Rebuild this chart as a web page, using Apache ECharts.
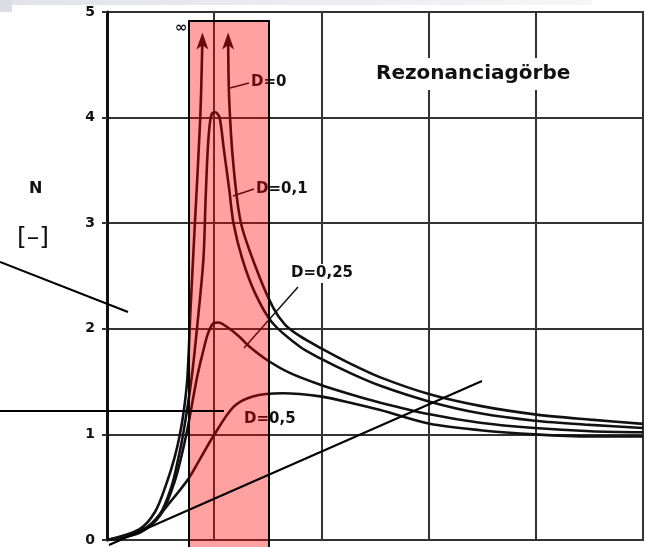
<!DOCTYPE html>
<html>
<head>
<meta charset="utf-8">
<script src="https://cdn.jsdelivr.net/npm/echarts@6/dist/echarts.min.js"></script>
<style>
  html, body { margin: 0; padding: 0; background: #fff; }
  #chart-container { width: 645px; height: 547px; }
</style>
</head>
<body>
<div id="chart-container"></div>
<script>
// tick labels of the N axis
var yTicks = ['0', '1', '2', '3', '4', '5'];

// curves: [eta, N]
var d0Left = [[0, 0], [0.3, 0.1], [0.45, 0.27], [0.56, 0.55], [0.63, 0.78], [0.68, 1.0], [0.72, 1.25], [0.75, 1.54], [0.78, 2.2], [0.82, 3.0], [0.87, 4.0], [0.89, 4.75]];
var d0Right = [[1.13, 4.75], [1.14, 4.17], [1.18, 3.54], [1.25, 3.0], [1.4, 2.55], [1.55, 2.2], [1.66, 2.04], [1.8, 1.93], [1.99, 1.82], [2.27, 1.67], [2.55, 1.54], [3.01, 1.38], [3.48, 1.27], [3.99, 1.19], [4.51, 1.14], [5.0, 1.10]];
var d01 = [[0, 0], [0.31, 0.08], [0.49, 0.24], [0.6, 0.5], [0.66, 0.75], [0.71, 1.0], [0.79, 1.54], [0.85, 2.11], [0.9, 2.67], [0.92, 3.23], [0.94, 3.7], [0.96, 3.95], [0.98, 4.04], [1.01, 4.05], [1.05, 4.0], [1.09, 3.7], [1.14, 3.32], [1.18, 3.0], [1.26, 2.67], [1.38, 2.34], [1.54, 2.06], [1.8, 1.83], [1.99, 1.72], [2.27, 1.58], [2.55, 1.46], [3.01, 1.31], [3.48, 1.2], [3.99, 1.13], [4.51, 1.09], [5.0, 1.06]];
var d025 = [[0, 0], [0.31, 0.07], [0.5, 0.24], [0.63, 0.55], [0.74, 1.0], [0.84, 1.54], [0.9, 1.8], [0.94, 1.95], [0.99, 2.05], [1.04, 2.06], [1.13, 2.01], [1.24, 1.92], [1.33, 1.83], [1.5, 1.7], [1.71, 1.58], [1.99, 1.47], [2.27, 1.38], [2.55, 1.30], [3.01, 1.19], [3.48, 1.11], [3.99, 1.06], [4.51, 1.03], [5.0, 1.02]];
var d05 = [[0, 0], [0.22, 0.05], [0.4, 0.14], [0.59, 0.36], [0.76, 0.58], [0.87, 0.77], [0.99, 0.98], [1.18, 1.26], [1.36, 1.36], [1.64, 1.39], [1.99, 1.36], [2.27, 1.3], [2.55, 1.23], [3.01, 1.1], [3.48, 1.04], [3.99, 1.0], [4.51, 0.98], [5.0, 0.98]];

function withArrow(points, last) {
  return points.map(function (p, i) {
    var isEnd = last ? i === points.length - 1 : i === 0;
    if (isEnd) {
      return { value: p, symbol: 'arrow', symbolSize: [9, 17], symbolOffset: [0, -6] };
    }
    return { value: p, symbol: 'none' };
  });
}

function plain(points) {
  return points.map(function (p) { return { value: p, symbol: 'none' }; });
}

function curve(name, data) {
  return {
    name: name,
    type: 'line',
    data: data,
    smooth: 0.3,
    showSymbol: true,
    symbol: 'none',
    lineStyle: { color: '#111', width: 2.6 },
    itemStyle: { color: '#111' },
    silent: true,
    z: 2
  };
}

var dom = document.getElementById('chart-container');
var myChart = echarts.init(dom, null, { renderer: 'canvas' });

var labelFont = { fontFamily: 'DejaVu Sans', fontWeight: 'bold', fontSize: 15, fill: '#111' };

var option = {
  animation: false,
  backgroundColor: '#fff',
  title: {
    text: 'Rezonanciagörbe',
    left: 366,
    top: 58,
    padding: [6, 10],
    backgroundColor: '#fff',
    textStyle: { fontFamily: 'DejaVu Sans', fontSize: 20, fontWeight: 'bold', color: '#111' }
  },
  grid: {
    left: 107, right: 2, top: 12, bottom: 2,
    show: true, borderColor: '#222', borderWidth: 2
  },
  xAxis: {
    type: 'value', min: 0, max: 5, interval: 1,
    axisLine: { show: false },
    axisTick: { show: false },
    axisLabel: { show: false },
    splitLine: { show: true, lineStyle: { color: '#333', width: 2 } }
  },
  yAxis: {
    type: 'value', min: 0, max: 5, interval: 1,
    axisLine: { show: true, lineStyle: { color: '#111', width: 3 } },
    axisTick: { show: true, length: 5, lineStyle: { color: '#333', width: 2 } },
    axisLabel: {
      margin: 12,
      fontFamily: 'DejaVu Sans', fontWeight: 'bold', fontSize: 14, color: '#111',
      formatter: function (v) { return yTicks[v]; }
    },
    splitLine: { show: true, lineStyle: { color: '#333', width: 2 } }
  },
  series: [
    curve('D=0 left', withArrow(d0Left, true)),
    curve('D=0 right', withArrow(d0Right, false)),
    curve('D=0,1', plain(d01)),
    curve('D=0,25', plain(d025)),
    curve('D=0,5', plain(d05))
  ],
  graphic: [
    // scan artefacts at the top
    { type: 'rect', shape: { x: 0, y: 0, width: 12, height: 12 }, style: { fill: '#dcdce4' }, z: 1 },
    { type: 'rect', shape: { x: 12, y: 0, width: 580, height: 5 },
      style: { fill: new echarts.graphic.LinearGradient(0, 0, 1, 0, [{ offset: 0, color: '#e2e2ea' }, { offset: 1, color: '#f6f6f8' }]) }, z: 1 },
    // axis name
    { type: 'text', x: 29, y: 181, style: { text: 'N', fontFamily: 'DejaVu Sans', fontWeight: 'bold', fontSize: 16, fill: '#111' }, z: 10 },
    { type: 'text', x: 17, y: 226, style: { text: '[–]', fontFamily: 'DejaVu Sans', fontSize: 25, fill: '#111' }, z: 10 },
    // curve labels and leaders
    { type: 'text', x: 251, y: 75, style: Object.assign({ text: 'D=0' }, labelFont), z: 10 },
    { type: 'line', shape: { x1: 230, y1: 88, x2: 249, y2: 83 }, style: { stroke: '#111', lineWidth: 1.5 }, z: 10 },
    { type: 'text', x: 256, y: 182, style: Object.assign({ text: 'D=0,1' }, labelFont), z: 10 },
    { type: 'line', shape: { x1: 233, y1: 196, x2: 254, y2: 189 }, style: { stroke: '#111', lineWidth: 1.5 }, z: 10 },
    { type: 'text', x: 289, y: 264, style: Object.assign({ text: 'D=0,25', backgroundColor: '#fff', padding: [2, 2] }, labelFont), z: 10 },
    { type: 'line', shape: { x1: 298, y1: 287, x2: 244, y2: 348 }, style: { stroke: '#111', lineWidth: 1.5 }, z: 10 },
    { type: 'text', x: 244, y: 412, style: Object.assign({ text: 'D=0,5' }, labelFont), z: 10 },
    { type: 'text', x: 175, y: 21, style: Object.assign({ text: '∞' }, labelFont), z: 10 },
    // red highlight band
    { type: 'rect', shape: { x: 189, y: 21, width: 80, height: 540 },
      style: { fill: 'rgba(255,0,0,0.37)', stroke: '#000', lineWidth: 2 }, z: 20 },
    // annotation pointer lines
    { type: 'line', shape: { x1: 0, y1: 262, x2: 128, y2: 312 }, style: { stroke: '#000', lineWidth: 2 }, z: 30 },
    { type: 'line', shape: { x1: 0, y1: 411, x2: 224, y2: 411 }, style: { stroke: '#000', lineWidth: 2 }, z: 30 },
    { type: 'line', shape: { x1: 109, y1: 545, x2: 482, y2: 381 }, style: { stroke: '#000', lineWidth: 2 }, z: 30 }
  ]
};

if (option && typeof option === 'object') {
  myChart.setOption(option);
}

window.addEventListener('resize', myChart.resize);
</script>
</body>
</html>
